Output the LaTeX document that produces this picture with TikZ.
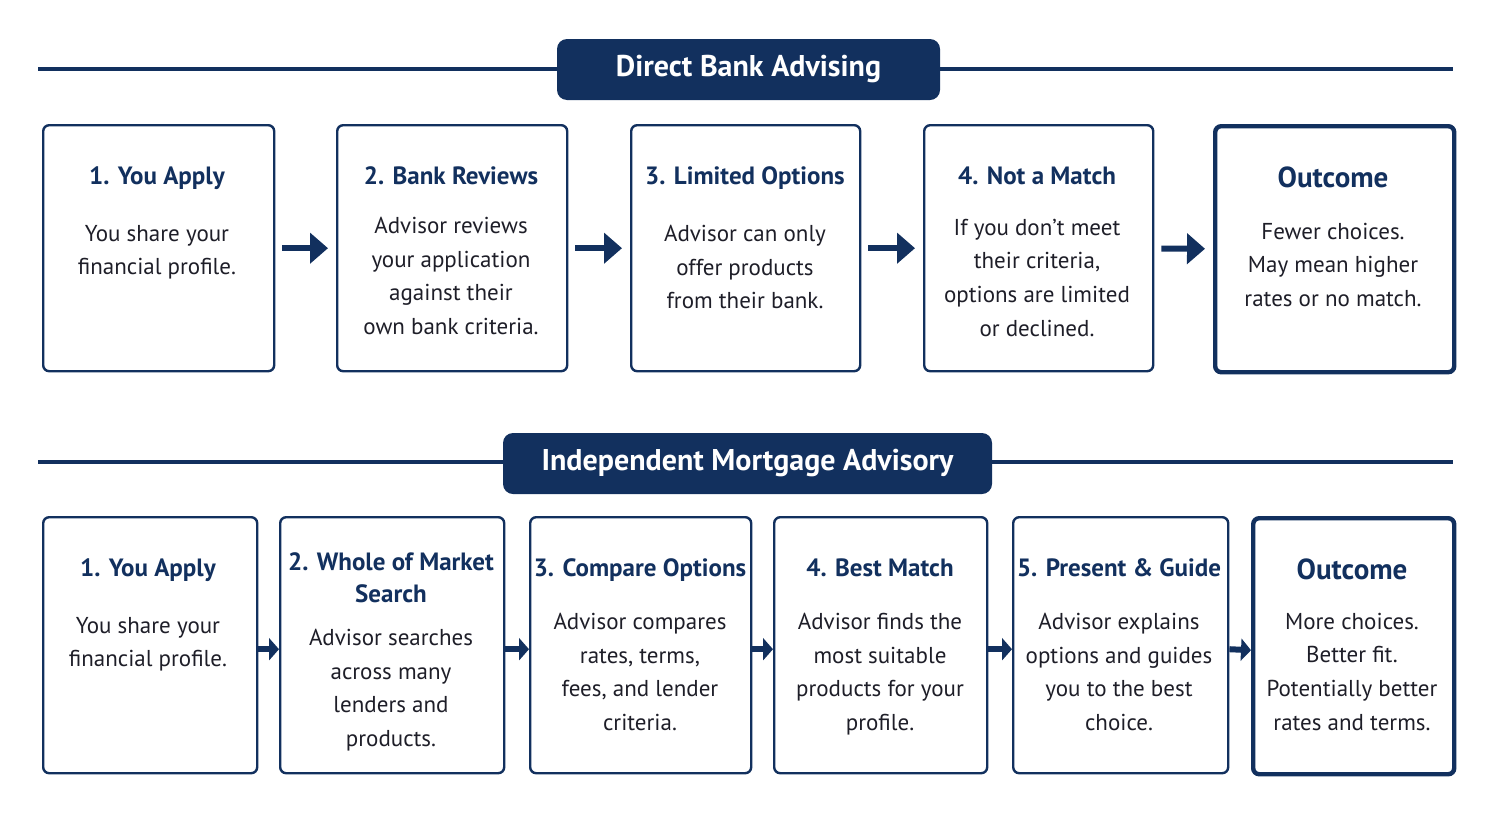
\documentclass[tikz,border=0pt]{standalone}
\usepackage{fontspec}
\setmainfont{PT Sans}
\usetikzlibrary{arrows.meta}
\definecolor{navy}{HTML}{12305E}
\definecolor{txt}{HTML}{1E1E28}
\begin{document}
\begin{tikzpicture}[x=0.5pt,y=-0.5pt,
 box/.style={draw=navy,line width=1.2pt,rounded corners=3pt},
 obox/.style={draw=navy,line width=2.2pt,rounded corners=3pt},
 ttl/.style={text=navy,font=\fontsize{12.5}{15}\selectfont\bfseries,align=center,anchor=north},
 bdy/.style={text=txt,font=\fontsize{11.5}{16.8}\selectfont,align=center,anchor=north},
 otl/.style={text=navy,font=\fontsize{14.5}{17}\selectfont\bfseries,anchor=north},
 banner/.style={fill=navy,rounded corners=5pt,text=white,font=\fontsize{15}{18}\selectfont\bfseries},
 big/.style={draw=navy,line width=3pt,-{Triangle[length=9pt,width=15pt]}},
 sml/.style={draw=navy,line width=3pt,-{Triangle[length=5pt,width=11pt]}},
 rule/.style={draw=navy,line width=2pt}]
\useasboundingbox (0,0) rectangle (1497,814);
% top
\coordinate (l1) at (38,69); \coordinate (r1) at (1453,69);
\draw[rule] (l1) -- (r1);
\node[banner,minimum width=191.5pt,minimum height=30.5pt] (b1) at (748.5,69.5) {Direct Bank Advising};
\foreach \n/\xa/\xb/\ob in {a1/42/273/box,a2/336/566/box,a3/630/859/box,a4/923/1152/box,a5/1213/1452/obox}{
 \node[\ob,minimum width={(\xb-\xa)*0.5pt},minimum height=123pt,anchor=north west] (\n) at (\xa,124) {};}
\node[ttl] at (157,160) {1. You Apply};
\node[bdy] at (157,218) {You share your\\financial profile.};
\node[ttl] at (451,160) {2. Bank Reviews};
\node[bdy] at (451,210) {Advisor reviews\\your application\\against their\\own bank criteria.};
\node[ttl] at (745,160) {3. Limited Options};
\node[bdy] at (745,218) {Advisor can only\\offer products\\from their bank.};
\node[ttl] at (1037,160) {4. Not a Match};
\node[bdy] at (1037,212) {If you don’t meet\\their criteria,\\options are limited\\or declined.};
\node[otl] at (1333,160) {Outcome};
\node[bdy] at (1333,216) {Fewer choices.\\May mean higher\\rates or no match.};
\foreach \p/\q in {a1/a2,a2/a3,a3/a4,a4/a5}
 \draw[big,shorten <=3.5pt,shorten >=4pt] (\p) -- (\q);
% bottom
\coordinate (l2) at (38,462); \coordinate (r2) at (1453,462);
\draw[rule] (l2) -- (r2);
\node[banner,minimum width=244.5pt,minimum height=30.5pt] (b2) at (747.5,463.5) {Independent Mortgage Advisory};
\foreach \n/\xa/\xb/\ob in {c1/42/256/box,c2/279/503/box,c3/529/750/box,c4/773/986/box,c5/1012/1227/box,c6/1251/1452/obox}{
 \node[\ob,minimum width={(\xb-\xa)*0.5pt},minimum height=128pt,anchor=north west] (\n) at (\xa,516) {};}
\node[ttl] at (148,552) {1. You Apply};
\node[bdy] at (148,610) {You share your\\financial profile.};
\node[ttl,font=\fontsize{12.5}{16}\selectfont\bfseries] at (391,546) {2. Whole of Market\\Search};
\node[bdy] at (391,622) {Advisor searches\\across many\\lenders and\\products.};
\node[ttl] at (640,552) {3. Compare Options};
\node[bdy] at (640,606) {Advisor compares\\rates, terms,\\fees, and lender\\criteria.};
\node[ttl] at (880,552) {4. Best Match};
\node[bdy] at (880,606) {Advisor finds the\\most suitable\\products for your\\profile.};
\node[ttl] at (1119,552) {5. Present \& Guide};
\node[bdy] at (1119,606) {Advisor explains\\options and guides\\you to the best\\choice.};
\node[otl] at (1352,552) {Outcome};
\node[bdy] at (1352,606) {More choices.\\Better fit.\\Potentially better\\rates and terms.};
\foreach \p/\q in {c1/c2,c2/c3,c3/c4,c4/c5,c5/c6}
 \draw[sml] ([yshift=-2pt]\p.east) -- ([yshift=-2pt]\q.west);
\end{tikzpicture}
\end{document}
